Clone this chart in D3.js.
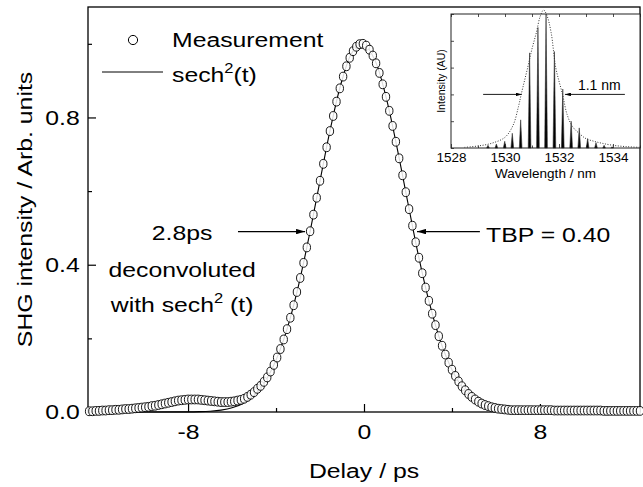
<!DOCTYPE html>
<html>
<head>
<meta charset="utf-8">
<script src="https://cdn.jsdelivr.net/npm/d3@7"></script>
<style>
  body { margin: 0; background: #fff; }
  svg { display: block; font-family: "Liberation Sans", Arial, sans-serif; }
</style>
</head>
<body>
<div id="chart"></div>
<script>
// ------ Data ------ //

// SHG autocorrelation, one point every 0.15 ps starting at -12.5 ps
const delayStart = -12.5;
const delayStep = 0.15;
const measurement = [
  0.002, 0.002, 0.003, 0.003, 0.004, 0.004, 0.005, 0.005, 0.006, 0.006,
  0.007, 0.008, 0.008, 0.009, 0.010, 0.011, 0.012, 0.013, 0.014, 0.016,
  0.017, 0.019, 0.021, 0.023, 0.025, 0.027, 0.029, 0.031, 0.032, 0.033,
  0.034, 0.034, 0.034, 0.034, 0.033, 0.032, 0.031, 0.030, 0.029, 0.028,
  0.027, 0.027, 0.027, 0.028, 0.029, 0.031, 0.033, 0.036, 0.041, 0.047,
  0.054, 0.063, 0.071, 0.082, 0.094, 0.110, 0.128, 0.148, 0.171, 0.197,
  0.225, 0.256, 0.290, 0.326, 0.364, 0.405, 0.447, 0.491, 0.536, 0.582,
  0.628, 0.674, 0.719, 0.763, 0.804, 0.843, 0.879, 0.911, 0.939, 0.962,
  0.980, 0.992, 0.999, 1.000, 0.995, 0.984, 0.968, 0.947, 0.921, 0.890,
  0.856, 0.818, 0.777, 0.734, 0.689, 0.643, 0.597, 0.551, 0.506, 0.461,
  0.419, 0.377, 0.338, 0.302, 0.267, 0.236, 0.206, 0.180, 0.156, 0.134,
  0.115, 0.098, 0.083, 0.070, 0.059, 0.049, 0.041, 0.034, 0.028, 0.023,
  0.019, 0.016, 0.013, 0.011, 0.009, 0.008, 0.007, 0.006, 0.005, 0.005,
  0.005, 0.005, 0.005, 0.005, 0.005, 0.005, 0.005, 0.005, 0.005, 0.005,
  0.005, 0.004, 0.004, 0.004, 0.004, 0.004, 0.004, 0.004, 0.004, 0.004,
  0.004, 0.004, 0.004, 0.004, 0.004, 0.004, 0.003, 0.003, 0.003, 0.003,
  0.003, 0.003, 0.003, 0.003, 0.003, 0.003, 0.003, 0.003
];

// sech^2 fit
const fitDelays = [
  -12.5, -8, -7.5, -7, -6.5, -6, -5.5, -5, -4.5, -4, -3.5, -3, -2.5, -2, -1.5, -1, -0.5,
  0, 0.5, 1, 1.5, 2, 2.5, 3, 3.5, 4, 4.5, 5, 5.5, 6, 6.5, 7, 7.5, 8, 12.5
];
const fitValues = [
  0, 0.0003, 0.0009, 0.0022, 0.0051, 0.0113, 0.0233, 0.0453, 0.0825, 0.141, 0.225, 0.338,
  0.476, 0.628, 0.777, 0.901, 0.980,
  0.999, 0.955, 0.856, 0.719, 0.567, 0.418, 0.290, 0.188, 0.115, 0.0654, 0.0350, 0.0176,
  0.0083, 0.0037, 0.0015, 0.0006, 0.0002, 0
];

const xMajorTicks = [-8, 0, 8];
const xMinorTicks = [-12, -4, 4, 12];
const yMajorTicks = [0, 0.4, 0.8];
const yMinorTicks = [0.2, 0.6, 1.0];

// Inset: optical spectrum
const lineWavelengths = [
  1529.37, 1529.68, 1529.99, 1530.27, 1530.58, 1530.91, 1531.22, 1531.52,
  1531.83, 1532.14, 1532.45, 1532.75, 1533.06, 1533.37, 1533.67, 1533.97
];
const lineHeights = [
  0.02, 0.03, 0.05, 0.11, 0.21, 0.71, 0.90, 1.0,
  0.72, 0.44, 0.20, 0.15, 0.07, 0.04, 0.02, 0.01
];
const envelopeWavelengths = [
  1528.5, 1529.0, 1529.5, 1530.0, 1530.3, 1530.5, 1530.6, 1530.84, 1531.0, 1531.16,
  1531.3, 1531.43, 1531.55, 1531.71, 1531.88, 1532.13, 1532.3, 1532.5, 1532.8, 1533.0,
  1533.3, 1533.6, 1534.0, 1534.5, 1535.0
];
const envelopeValues = [
  0.005, 0.015, 0.035, 0.08, 0.17, 0.31, 0.40, 0.60, 0.74, 0.86,
  0.98, 1.03, 0.99, 0.86, 0.60, 0.40, 0.25, 0.16, 0.10, 0.07,
  0.05, 0.035, 0.02, 0.01, 0.005
];
const insetXTicks = [1528, 1530, 1532, 1534];
const insetXMinor = [1529, 1531, 1533, 1535];
const insetYTicks = [0, 0.2, 0.4, 0.6, 0.8, 1.0];

// ------ Drawing area ------ //
const width = 643;
const height = 487;
const stretch = 1.18;   // the lettering of the figure is wide
const fontSize = 21;

const svg = d3.select("#chart")
  .append("svg")
    .attr("width", width)
    .attr("height", height)
    .attr("viewBox", [0, 0, width, height]);

const plot = { left: 88, right: 640, top: 7, bottom: 412 };

const x = d3.scaleLinear().domain([-12.55, 12.55]).range([plot.left, plot.right]);
const y = d3.scaleLinear().domain([0, 1.1]).range([plot.bottom, plot.top]);

const defs = svg.append("defs");
defs.append("marker")
    .attr("id", "head")
    .attr("viewBox", "0 0 10 6")
    .attr("refX", 10).attr("refY", 3)
    .attr("markerUnits", "userSpaceOnUse")
    .attr("markerWidth", 9).attr("markerHeight", 5.5)
    .attr("orient", "auto")
  .append("path")
    .attr("d", "M0,0 L10,3 L0,6 z")
    .attr("fill", "black");
defs.append("marker")
    .attr("id", "headSmall")
    .attr("viewBox", "0 0 10 6")
    .attr("refX", 10).attr("refY", 3)
    .attr("markerUnits", "userSpaceOnUse")
    .attr("markerWidth", 6).attr("markerHeight", 3.6)
    .attr("orient", "auto")
  .append("path")
    .attr("d", "M0,0 L10,3 L0,6 z")
    .attr("fill", "black");

// stretched text helper
const label = (parent, px, py, anchor) => parent.append("g")
    .attr("transform", `translate(${px},${py}) scale(${stretch},1)`)
  .append("text")
    .attr("font-size", fontSize)
    .attr("text-anchor", anchor);

const sech = (t, trail) => {
  t.append("tspan").text("sech");
  t.append("tspan").attr("dy", -9).attr("font-size", 14).text("2");
  t.append("tspan").attr("dy", 9).text(trail);
};

// ------ Axes ------ //
const axes = svg.append("g");

axes.append("g")
    .attr("transform", `translate(0,${plot.bottom})`)
    .call(d3.axisBottom(x).tickValues(xMinorTicks).tickSize(-4).tickFormat(""))
    .call(g => g.select(".domain").remove());
const xAxis = axes.append("g")
    .attr("transform", `translate(0,${plot.bottom})`)
    .call(d3.axisBottom(x).tickValues(xMajorTicks).tickSize(-8).tickPadding(12)
      .tickFormat(d3.format("d")))
    .call(g => g.select(".domain").remove());

axes.append("g")
    .attr("transform", `translate(${plot.left},0)`)
    .call(d3.axisLeft(y).tickValues(yMinorTicks).tickSize(-4).tickFormat(""))
    .call(g => g.select(".domain").remove());
const yAxis = axes.append("g")
    .attr("transform", `translate(${plot.left},0)`)
    .call(d3.axisLeft(y).tickValues(yMajorTicks).tickSize(-8).tickPadding(7)
      .tickFormat(d3.format(".1f")))
    .call(g => g.select(".domain").remove());

[xAxis, yAxis].forEach(a => a.selectAll("text")
  .attr("font-size", fontSize)
  .attr("fill", "black")
  .attr("transform", `scale(${stretch},1)`));
axes.selectAll(".tick line").attr("stroke", "black").attr("stroke-width", 1.2);
axes.selectAll("text").attr("font-family", "'Liberation Sans', Arial, sans-serif");
xAxis.selectAll("text").text(d => d < 0 ? "-" + Math.abs(d) : d);

// frame
svg.append("rect")
    .attr("x", plot.left).attr("y", plot.top)
    .attr("width", plot.right - plot.left)
    .attr("height", plot.bottom - plot.top)
    .attr("fill", "none")
    .attr("stroke", "black")
    .attr("stroke-width", 1.3);

// axis titles
label(svg, (plot.left + plot.right) / 2, 478, "middle").text("Delay / ps");
svg.append("g")
    .attr("transform", `translate(32,${y(0.55)}) rotate(-90) scale(${stretch},1)`)
  .append("text")
    .attr("font-size", fontSize)
    .attr("text-anchor", "middle")
    .text("SHG intensity / Arb. units");

// ------ Data marks ------ //
const measured = measurement.map((v, i) => ({ t: delayStart + i * delayStep, v }));

const lineGen = d3.line()
  .x(d => x(d[0]))
  .y(d => y(d[1]))
  .curve(d3.curveCatmullRom.alpha(0.5));

svg.append("path")
    .attr("d", lineGen(fitDelays.map((t, i) => [t, fitValues[i]])))
    .attr("fill", "none")
    .attr("stroke", "black")
    .attr("stroke-width", 1.1);

svg.append("g")
  .selectAll("ellipse")
  .data(measured)
  .join("ellipse")
    .attr("cx", d => x(d.t))
    .attr("cy", d => y(d.v))
    .attr("rx", 3.7)
    .attr("ry", 4.4)
    .attr("fill", "white")
    .attr("fill-opacity", 0.85)
    .attr("stroke", "black")
    .attr("stroke-width", 0.9);

// ------ Legend ------ //
svg.append("circle")
    .attr("cx", 133).attr("cy", 40).attr("r", 4.6)
    .attr("fill", "white").attr("stroke", "black").attr("stroke-width", 1);
label(svg, 172, 47, "start").text("Measurement");
svg.append("line")
    .attr("x1", 102).attr("x2", 163).attr("y1", 72).attr("y2", 72)
    .attr("stroke", "black").attr("stroke-width", 1);
sech(label(svg, 172, 82, "start"), "(t)");

// ------ Annotations ------ //
const halfLevel = 0.49;
svg.append("line")
    .attr("x1", x(-5.73)).attr("x2", x(-2.68))
    .attr("y1", y(halfLevel)).attr("y2", y(halfLevel))
    .attr("stroke", "black").attr("stroke-width", 1.1)
    .attr("marker-end", "url(#head)");
svg.append("line")
    .attr("x1", x(5.27)).attr("x2", x(2.41))
    .attr("y1", y(halfLevel)).attr("y2", y(halfLevel))
    .attr("stroke", "black").attr("stroke-width", 1.1)
    .attr("marker-end", "url(#head)");

label(svg, x(-8.27), y(0.467), "middle").text("2.8ps");
label(svg, x(-8.27), y(0.367), "middle").text("deconvoluted");
const withText = label(svg, x(-8.27), y(0.272), "middle");
withText.append("tspan").text("with ");
sech(withText, " (t)");
label(svg, x(5.55), y(0.462), "start").text("TBP = 0.40");

// ------ Inset ------ //
const inset = svg.append("g");
const xi = d3.scaleLinear().domain([1528, 1535]).range([451, 640]);
const yi = d3.scaleLinear().domain([0, 1]).range([148, 14]);

inset.append("rect")
    .attr("x", xi(1528)).attr("y", yi(1))
    .attr("width", xi(1535) - xi(1528)).attr("height", yi(0) - yi(1))
    .attr("fill", "white");

inset.append("g")
    .attr("transform", `translate(0,${yi(0)})`)
    .call(d3.axisBottom(xi).tickValues(insetXTicks).tickSize(-4).tickPadding(4)
      .tickFormat(d3.format("d")))
    .call(g => g.select(".domain").remove())
    .call(g => g.selectAll("text").attr("font-size", 13.5).attr("fill", "black"));
inset.append("g")
    .attr("transform", `translate(0,${yi(0)})`)
    .call(d3.axisBottom(xi).tickValues(insetXMinor).tickSize(-2.5).tickFormat(""))
    .call(g => g.select(".domain").remove());
inset.append("g")
    .attr("transform", `translate(0,${yi(1)})`)
    .call(d3.axisTop(xi).tickValues(insetXTicks.concat(insetXMinor)).tickSize(-3).tickFormat(""))
    .call(g => g.select(".domain").remove());
inset.append("g")
    .attr("transform", `translate(${xi(1528)},0)`)
    .call(d3.axisLeft(yi).tickValues(insetYTicks).tickSize(-3).tickFormat(""))
    .call(g => g.select(".domain").remove());
inset.selectAll(".tick line").attr("stroke", "#222").attr("stroke-width", 0.8);
inset.selectAll("text").attr("font-family", "'Liberation Sans', Arial, sans-serif");

inset.append("rect")
    .attr("x", xi(1528)).attr("y", yi(1))
    .attr("width", xi(1535) - xi(1528)).attr("height", yi(0) - yi(1))
    .attr("fill", "none")
    .attr("stroke", "#222")
    .attr("stroke-width", 1);

inset.append("text")
    .attr("x", (xi(1528) + xi(1535)) / 2)
    .attr("y", 178)
    .attr("text-anchor", "middle")
    .attr("font-size", 13.5)
    .text("Wavelength / nm");
inset.append("text")
    .attr("transform", `translate(445,${yi(0.5)}) rotate(-90)`)
    .attr("text-anchor", "middle")
    .attr("font-size", 10.5)
    .text("Intensity (AU)");

// spectral lines
inset.append("g")
  .selectAll("path")
  .data(lineWavelengths.map((w, i) => ({ w, h: lineHeights[i] })))
  .join("path")
    .attr("d", d => `M${xi(d.w - 0.05)},${yi(0)} L${xi(d.w)},${yi(d.h)} L${xi(d.w + 0.05)},${yi(0)} Z`)
    .attr("fill", "black")
    .attr("stroke", "#333")
    .attr("stroke-width", 0.6);

// envelope
inset.append("path")
    .attr("d", d3.line()
      .x(d => xi(d[0]))
      .y(d => yi(d[1]))
      .curve(d3.curveCatmullRom.alpha(0.5))(envelopeWavelengths.map((w, i) => [w, envelopeValues[i]])))
    .attr("fill", "none")
    .attr("stroke", "#333")
    .attr("stroke-width", 1)
    .attr("stroke-dasharray", "1,1.6");

// width arrows
const fwLevel = 0.40;
inset.append("line")
    .attr("x1", xi(1529.19)).attr("x2", xi(1530.62))
    .attr("y1", yi(fwLevel)).attr("y2", yi(fwLevel))
    .attr("stroke", "black").attr("stroke-width", 0.9)
    .attr("marker-end", "url(#headSmall)");
inset.append("line")
    .attr("x1", xi(1534.44)).attr("x2", xi(1532.22))
    .attr("y1", yi(fwLevel)).attr("y2", yi(fwLevel))
    .attr("stroke", "black").attr("stroke-width", 0.9)
    .attr("marker-end", "url(#headSmall)");
inset.append("text")
    .attr("x", xi(1532.7))
    .attr("y", yi(0.433))
    .attr("font-size", 14)
    .text("1.1 nm");
</script>
</body>
</html>
